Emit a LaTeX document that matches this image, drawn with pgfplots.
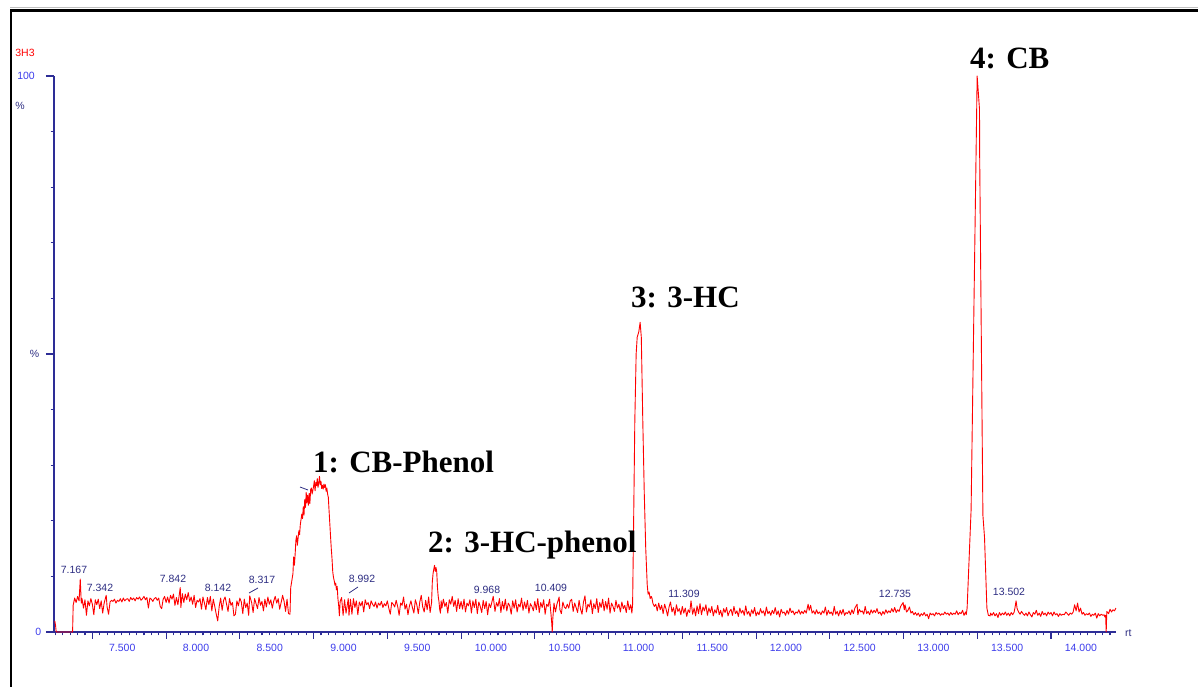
\documentclass[border=0pt]{standalone}
\usepackage{pgfplots}
\pgfplotsset{compat=1.18}
\usepackage{fontspec}
\setmainfont{Liberation Sans}
\newfontfamily\peakfont{Liberation Serif}
\definecolor{axisnavy}{RGB}{45,45,150}
\definecolor{tickblue}{RGB}{60,60,235}
\definecolor{annot}{RGB}{45,45,130}
\definecolor{trace}{RGB}{255,0,0}
\newcommand\peaklabel{\peakfont\bfseries\fontsize{31}{36}\selectfont}
\begin{document}
\begin{tikzpicture}[x=1pt,y=1pt,every node/.style={font=\fontsize{10.5}{12}\selectfont}]
\useasboundingbox (0,0) rectangle (1198,687);
% frame
\draw[black!25, line width=1pt] (10,679) -- (1198,679);
\draw[black, line width=2.4pt] (11,0) -- (11,676.6) -- (1198,676.6);
\begin{axis}[
  at={(54pt,55pt)}, anchor=south west, scale only axis,
  width=1062pt, height=556pt,
  xmin=6.99, xmax=14.19, ymin=0, ymax=100,
  axis x line*=bottom, axis y line*=left,
  axis line style={axisnavy, line width=1.5pt},
  tick align=outside,
  tick style={axisnavy, line width=1.1pt},
  major tick length=3.5pt, minor tick length=3.5pt,
  xtick={7.5,8,...,14},
  xticklabels={7.500,8.000,8.500,9.000,9.500,10.000,10.500,11.000,11.500,12.000,12.500,13.000,13.500,14.000},
  xticklabel style={anchor=center, text=tickblue, xshift=-7pt, yshift=-12pt},
  minor xtick={7.0,7.05,...,14.16},
  extra x ticks={7.25,7.75,...,13.8},
  extra x tick labels={},
  extra x tick style={major tick length=7pt},
  ytick={10,20,...,90}, yticklabels={},
  extra y ticks={0,50,100}, extra y tick labels={},
  extra y tick style={major tick length=8pt},
  clip=false,
]
\addplot[trace, line width=0.9pt, mark=none, line join=round] coordinates {
(6.995,2.0) (7.000,1.3) (7.005,0) (7.116,0) (7.120,4.8) (7.130,6.1) (7.140,5.3) (7.150,6.4) (7.160,5.6) (7.168,9.5) (7.175,5.2)
(7.18,6.0) (7.19,4.3) (7.20,5.8) (7.21,3.0) (7.22,5.6) (7.23,4.7) (7.24,6.0) (7.25,5.0) (7.26,3.1) (7.27,5.8)
(7.28,4.9) (7.29,5.9) (7.30,4.2) (7.31,5.6) (7.32,3.4) (7.33,5.2) (7.344,6.6) (7.35,4.5) (7.36,3.2) (7.37,5.4)
(7.38,5.7) (7.39,5.5) (7.40,5.9) (7.41,5.2) (7.42,5.7) (7.43,5.5) (7.44,6.0) (7.45,5.4) (7.46,6.1) (7.47,5.6)
(7.48,5.9) (7.49,6.0) (7.50,5.5) (7.51,6.2) (7.52,5.8) (7.53,6.1) (7.54,5.6) (7.55,6.2) (7.56,5.9) (7.57,6.3)
(7.58,5.7) (7.59,6.0) (7.60,6.4) (7.61,5.8) (7.62,6.2) (7.63,4.3) (7.64,6.1) (7.65,5.9) (7.66,5.5) (7.67,6.0)
(7.68,6.2) (7.69,5.7) (7.70,6.1) (7.71,4.6) (7.72,4.2) (7.73,5.9) (7.74,6.4) (7.75,5.3) (7.76,6.3) (7.77,5.2)
(7.78,6.6) (7.79,5.9) (7.80,6.8) (7.81,4.8) (7.82,6.2) (7.83,4.9) (7.846,8.0) (7.85,4.4) (7.86,6.9) (7.87,5.3)
(7.88,6.8) (7.89,5.8) (7.90,7.1) (7.91,5.5) (7.92,6.3) (7.93,5.0) (7.94,6.6) (7.95,4.4) (7.96,5.7) (7.97,5.4)
(7.98,6.0) (7.99,4.1) (8.00,6.3) (8.01,5.2) (8.02,4.0) (8.03,6.2) (8.04,4.9) (8.05,6.4) (8.06,3.8) (8.07,5.9)
(8.08,4.6) (8.09,3.2) (8.10,2.0) (8.11,4.6) (8.12,6.1) (8.13,3.9) (8.14,5.7) (8.15,6.3) (8.16,5.0) (8.17,3.7)
(8.18,6.0) (8.19,4.8) (8.20,5.3) (8.21,2.9) (8.22,3.2) (8.23,5.6) (8.24,4.7) (8.25,6.1) (8.26,5.4) (8.27,3.3)
(8.28,5.9) (8.29,4.4) (8.30,5.2) (8.31,3.0) (8.317,6.5) (8.33,5.3) (8.34,3.5) (8.35,6.0) (8.36,5.1) (8.37,4.2)
(8.38,6.2) (8.39,4.8) (8.40,5.5) (8.41,3.8) (8.42,5.9) (8.43,4.5) (8.44,6.3) (8.45,5.0) (8.46,5.8) (8.47,4.3)
(8.48,5.6) (8.49,6.4) (8.50,5.2) (8.51,6.0) (8.52,4.1) (8.53,5.3) (8.54,6.6) (8.55,5.5) (8.56,3.7) (8.57,5.9)
(8.58,3.3) (8.59,3.2) (8.595,8.0) (8.60,8.8) (8.61,10.5) (8.615,13.5) (8.62,12.0) (8.625,14.0) (8.63,16.5) (8.635,17.3)
(8.64,15.6) (8.65,18.2) (8.655,17.5) (8.66,19.3) (8.67,21.2) (8.675,20.4) (8.68,22.5) (8.685,21.0) (8.69,23.8) (8.695,22.4)
(8.70,25.1) (8.705,23.2) (8.71,24.6) (8.715,22.8) (8.72,24.9) (8.725,23.1) (8.73,25.6) (8.735,25.9) (8.74,24.8) (8.75,26.2)
(8.755,27.2) (8.76,25.4) (8.765,26.9) (8.77,26.3) (8.775,27.6) (8.78,26.0) (8.785,26.8) (8.79,28.0) (8.795,26.5) (8.80,27.1)
(8.805,25.8) (8.81,26.4) (8.815,25.7) (8.82,26.6) (8.825,26.0) (8.83,26.5) (8.835,25.3) (8.84,25.9) (8.845,24.8) (8.85,24.2)
(8.855,21.8) (8.86,19.5) (8.865,17.2) (8.87,15.0) (8.875,13.2) (8.88,10.8) (8.885,9.8) (8.89,9.2) (8.895,8.4) (8.90,8.8)
(8.905,7.6) (8.91,8.2) (8.915,6.0) (8.92,4.8) (8.925,2.9) (8.93,5.5) (8.94,6.2) (8.95,3.0) (8.96,5.8) (8.97,3.4)
(8.985,6.0) (8.99,3.0) (9.00,5.9) (9.01,3.2) (9.02,6.0) (9.03,4.4) (9.04,5.6) (9.05,3.1) (9.06,5.4) (9.07,4.7)
(9.08,5.5) (9.09,3.6) (9.10,5.8) (9.11,4.9) (9.12,5.3) (9.13,4.2) (9.14,5.6) (9.15,5.0) (9.16,4.6) (9.17,5.4)
(9.18,4.3) (9.19,5.2) (9.20,4.8) (9.21,5.5) (9.22,4.4) (9.23,5.1) (9.24,4.7) (9.25,5.6) (9.26,4.3) (9.27,3.2)
(9.28,5.3) (9.29,5.0) (9.30,4.5) (9.31,5.7) (9.32,4.6) (9.33,3.0) (9.34,5.2) (9.35,4.8) (9.36,6.3) (9.37,4.1)
(9.38,5.0) (9.39,3.1) (9.40,4.7) (9.41,5.6) (9.42,4.4) (9.43,3.4) (9.44,5.8) (9.45,4.9) (9.46,3.3) (9.47,5.4)
(9.48,6.6) (9.49,4.5) (9.50,3.6) (9.51,5.7) (9.52,4.0) (9.53,6.3) (9.54,3.5) (9.55,5.3) (9.555,9.0) (9.56,10.5)
(9.565,11.3) (9.57,12.0) (9.575,10.9) (9.58,11.6) (9.585,10.8) (9.59,8.0) (9.595,6.4) (9.60,5.5) (9.605,4.1) (9.61,3.4)
(9.615,5.6) (9.62,4.3) (9.63,5.9) (9.64,4.6) (9.65,5.3) (9.66,3.4) (9.67,5.8) (9.68,5.0) (9.69,6.4) (9.70,4.6)
(9.71,5.7) (9.72,3.7) (9.73,6.0) (9.74,4.2) (9.75,5.5) (9.76,4.1) (9.77,5.9) (9.78,3.6) (9.79,5.2) (9.80,4.7)
(9.81,5.8) (9.82,3.4) (9.83,5.6) (9.84,4.4) (9.85,5.9) (9.86,3.3) (9.87,5.4) (9.88,4.6) (9.89,3.5) (9.90,5.7)
(9.91,4.2) (9.92,5.5) (9.93,3.1) (9.94,5.1) (9.95,4.4) (9.968,6.4) (9.98,3.7) (9.99,5.3) (10.00,4.6) (10.01,6.0)
(10.02,3.5) (10.03,5.5) (10.04,4.1) (10.05,5.9) (10.06,3.8) (10.07,5.2) (10.08,4.7) (10.09,3.2) (10.10,5.6) (10.11,4.3)
(10.12,5.8) (10.13,3.6) (10.14,5.0) (10.15,4.5) (10.16,6.1) (10.17,3.9) (10.18,5.4) (10.19,4.2) (10.20,5.7) (10.21,3.4)
(10.22,5.1) (10.23,4.6) (10.24,3.8) (10.25,5.5) (10.26,4.0) (10.27,6.0) (10.28,3.5) (10.29,5.3) (10.30,4.4) (10.31,5.8)
(10.32,3.2) (10.33,5.0) (10.34,4.6) (10.35,5.9) (10.36,3.1) (10.365,1.5) (10.368,0.0) (10.372,2.4) (10.38,5.2) (10.39,3.6)
(10.40,5.0) (10.415,6.3) (10.42,4.0) (10.43,3.3) (10.44,5.4) (10.45,4.5) (10.46,4.2) (10.47,5.0) (10.48,4.3) (10.49,5.6)
(10.50,5.9) (10.51,3.7) (10.52,5.2) (10.53,4.4) (10.54,3.5) (10.55,5.7) (10.56,4.1) (10.57,3.2) (10.58,5.4) (10.59,6.5)
(10.60,3.6) (10.61,5.0) (10.62,4.5) (10.63,5.8) (10.64,3.3) (10.65,5.1) (10.66,4.2) (10.67,6.0) (10.68,3.5) (10.69,5.3)
(10.70,4.4) (10.71,5.9) (10.72,3.8) (10.73,5.5) (10.74,4.1) (10.75,6.1) (10.76,3.4) (10.77,5.2) (10.78,4.6) (10.79,3.7)
(10.80,5.7) (10.81,4.3) (10.82,5.0) (10.83,3.6) (10.84,5.4) (10.85,4.2) (10.86,4.8) (10.87,3.5) (10.88,5.6) (10.89,4.0)
(10.90,4.9) (10.908,3.4) (10.913,5.0) (10.92,20) (10.928,38) (10.937,50) (10.944,53) (10.955,54) (10.964,55.7) (10.972,53)
(10.982,38) (10.992,25) (11.002,15) (11.012,8.5) (11.018,6.8) (11.025,7.2) (11.032,6.0) (11.04,6.4) (11.045,6.0) (11.05,5.2)
(11.06,4.6) (11.07,5.0) (11.08,3.8) (11.09,5.2) (11.10,4.0) (11.11,4.8) (11.12,3.3) (11.13,5.0) (11.14,4.1) (11.15,2.9)
(11.16,4.5) (11.17,5.4) (11.18,3.6) (11.19,4.4) (11.20,3.0) (11.21,4.9) (11.22,3.7) (11.23,4.2) (11.24,3.1) (11.25,4.6)
(11.26,3.4) (11.27,4.3) (11.28,2.8) (11.29,4.0) (11.30,3.5) (11.309,5.6) (11.32,3.2) (11.33,4.3) (11.34,2.9) (11.35,4.7)
(11.36,3.3) (11.37,5.1) (11.38,3.1) (11.39,4.5) (11.40,3.8) (11.41,4.9) (11.42,3.0) (11.43,4.3) (11.44,3.5) (11.45,4.6)
(11.46,2.9) (11.47,4.0) (11.48,3.4) (11.49,4.8) (11.50,3.1) (11.51,3.9) (11.52,2.7) (11.53,4.2) (11.54,3.5) (11.55,4.4)
(11.56,2.9) (11.57,3.7) (11.58,4.1) (11.59,3.0) (11.60,4.6) (11.61,3.3) (11.62,3.8) (11.63,2.8) (11.64,4.3) (11.65,3.4)
(11.66,3.9) (11.67,3.0) (11.68,4.7) (11.69,3.2) (11.70,3.7) (11.71,2.8) (11.72,4.0) (11.73,3.3) (11.74,4.4) (11.75,2.9)
(11.76,3.6) (11.77,3.1) (11.78,4.2) (11.79,3.4) (11.80,3.8) (11.81,2.9) (11.82,4.5) (11.83,3.3) (11.84,3.7) (11.85,3.0)
(11.86,3.9) (11.87,3.3) (11.88,4.4) (11.89,3.1) (11.90,3.8) (11.91,2.7) (11.92,4.1) (11.93,3.4) (11.94,3.6) (11.95,3.0)
(11.96,3.9) (11.97,3.2) (11.98,4.3) (11.99,3.5) (12.00,3.8) (12.01,3.1) (12.02,3.6) (12.03,3.4) (12.04,4.0) (12.05,3.2)
(12.06,3.7) (12.07,3.3) (12.08,3.9) (12.09,3.4) (12.103,5.0) (12.11,3.9) (12.12,4.8) (12.13,3.4) (12.14,3.8) (12.15,3.2)
(12.16,4.0) (12.17,3.3) (12.18,3.6) (12.19,3.1) (12.20,3.8) (12.21,3.4) (12.22,4.5) (12.23,3.0) (12.24,3.9) (12.25,3.3)
(12.26,3.6) (12.27,3.0) (12.28,4.6) (12.29,3.2) (12.30,3.7) (12.31,2.9) (12.32,3.9) (12.33,3.2) (12.34,4.1) (12.35,3.0)
(12.36,3.5) (12.37,3.3) (12.38,3.8) (12.39,3.1) (12.40,4.0) (12.41,3.3) (12.42,4.3) (12.435,5.0) (12.44,3.1) (12.45,4.1)
(12.46,3.6) (12.47,3.8) (12.48,3.2) (12.49,4.6) (12.50,3.3) (12.51,3.7) (12.52,3.1) (12.53,4.0) (12.54,3.4) (12.55,3.9)
(12.56,3.5) (12.57,4.2) (12.58,3.3) (12.59,3.6) (12.60,3.0) (12.61,3.7) (12.62,3.2) (12.63,4.0) (12.64,3.4) (12.65,3.8)
(12.66,3.5) (12.67,4.2) (12.68,3.6) (12.69,4.4) (12.70,3.5) (12.71,4.0) (12.72,3.7) (12.73,4.6) (12.747,5.3) (12.755,4.0)
(12.76,4.9) (12.77,3.6) (12.78,3.9) (12.79,4.5) (12.80,3.4) (12.81,3.7) (12.82,3.1) (12.83,3.5) (12.84,3.0) (12.85,3.4)
(12.86,2.8) (12.87,3.3) (12.88,3.0) (12.89,3.5) (12.90,2.9) (12.91,3.2) (12.92,2.4) (12.93,3.4) (12.94,3.1) (12.95,3.3)
(12.96,2.9) (12.97,3.5) (12.98,3.2) (12.99,3.4) (13.00,3.0) (13.01,3.3) (13.02,3.1) (13.03,3.6) (13.04,3.2) (13.05,3.4)
(13.06,3.0) (13.07,3.5) (13.08,3.1) (13.09,3.4) (13.10,3.2) (13.11,3.8) (13.12,3.1) (13.13,3.5) (13.14,3.3) (13.15,3.9)
(13.16,3.0) (13.17,3.6) (13.175,3.1) (13.181,4.3) (13.208,22) (13.249,100) (13.265,94) (13.266,86) (13.288,21) (13.299,17)
(13.315,4.3) (13.325,3.0) (13.337,2.9) (13.34,3.4) (13.35,3.0) (13.36,3.5) (13.37,2.9) (13.38,3.3) (13.39,2.6) (13.40,3.5)
(13.41,3.0) (13.42,3.4) (13.43,3.1) (13.44,3.6) (13.45,3.0) (13.46,3.4) (13.47,2.9) (13.48,3.5) (13.49,3.1) (13.50,3.6)
(13.505,4.3) (13.513,5.6) (13.52,4.2) (13.53,3.6) (13.54,3.2) (13.55,3.7) (13.56,3.3) (13.57,3.0) (13.58,3.4) (13.59,2.9)
(13.60,3.6) (13.61,3.1) (13.62,2.7) (13.63,3.5) (13.64,3.2) (13.65,3.9) (13.66,3.0) (13.67,3.4) (13.68,2.8) (13.69,3.7)
(13.70,3.1) (13.71,3.4) (13.72,2.9) (13.73,3.6) (13.74,3.2) (13.75,3.5) (13.76,2.9) (13.77,3.6) (13.78,3.1) (13.79,3.3)
(13.80,2.8) (13.81,3.3) (13.82,3.0) (13.83,3.2) (13.84,3.1) (13.85,3.6) (13.86,3.3) (13.87,3.0) (13.88,3.4) (13.89,3.2)
(13.90,3.6) (13.91,4.9) (13.92,3.8) (13.93,5.2) (13.94,3.6) (13.95,4.3) (13.96,3.2) (13.97,3.5) (13.98,3.0) (13.99,3.3)
(14.00,3.1) (14.01,3.4) (14.02,2.8) (14.03,3.2) (14.04,3.0) (14.05,3.4) (14.06,2.5) (14.07,3.3) (14.08,2.9) (14.09,3.2)
(14.10,3.0) (14.11,3.1) (14.115,2.7) (14.12,3.0) (14.124,0.0) (14.128,3.7) (14.14,3.3) (14.15,4.1) (14.16,3.6) (14.17,4.0)
(14.18,3.8) (14.19,4.3)
};
\end{axis}
% y axis texts
\node[anchor=east, inner sep=0, text=tickblue] at (35,611) {100};
\node[inner sep=0, text=annot] at (20,581) {\%};
\node[inner sep=0, text=trace] at (25,634) {3H3};
\node[anchor=east, inner sep=0, text=tickblue] at (41.5,55) {0};
\node[anchor=east, inner sep=0, text=annot] at (39.5,333) {\%};
\node[anchor=west, inner sep=0, text=annot] at (1125,54) {rt};
% peak annotations
\begin{scope}[every node/.append style={inner sep=0, text=annot}]
\node at (74,117) {7.167};
\node at (100,99) {7.342};
\node at (173,108) {7.842};
\node at (218,99) {8.142};
\node at (262,107) {8.317};
\node at (362,108) {8.992};
\node at (487,97) {9.968};
\node at (551,99) {10.409};
\node at (684,93) {11.309};
\node at (895,93) {12.735};
\node at (1009,95) {13.502};
\end{scope}
\draw[annot, line width=0.8pt] (249,94) -- (258,99);
\draw[annot, line width=0.8pt] (349,94) -- (358,100);
\draw[annot, line width=0.8pt] (300,200) -- (308,197);
% compound labels
\node[anchor=base west, inner sep=0, font=\peaklabel] at (313,214) {1: CB-Phenol};
\node[anchor=base west, inner sep=0, font=\peaklabel] at (428,134) {2: 3-HC-phenol};
\node[anchor=base west, inner sep=0, font=\peaklabel] at (631,379) {3: 3-HC};
\node[anchor=base west, inner sep=0, font=\peaklabel] at (970,618) {4: CB};
\end{tikzpicture}
\end{document}
